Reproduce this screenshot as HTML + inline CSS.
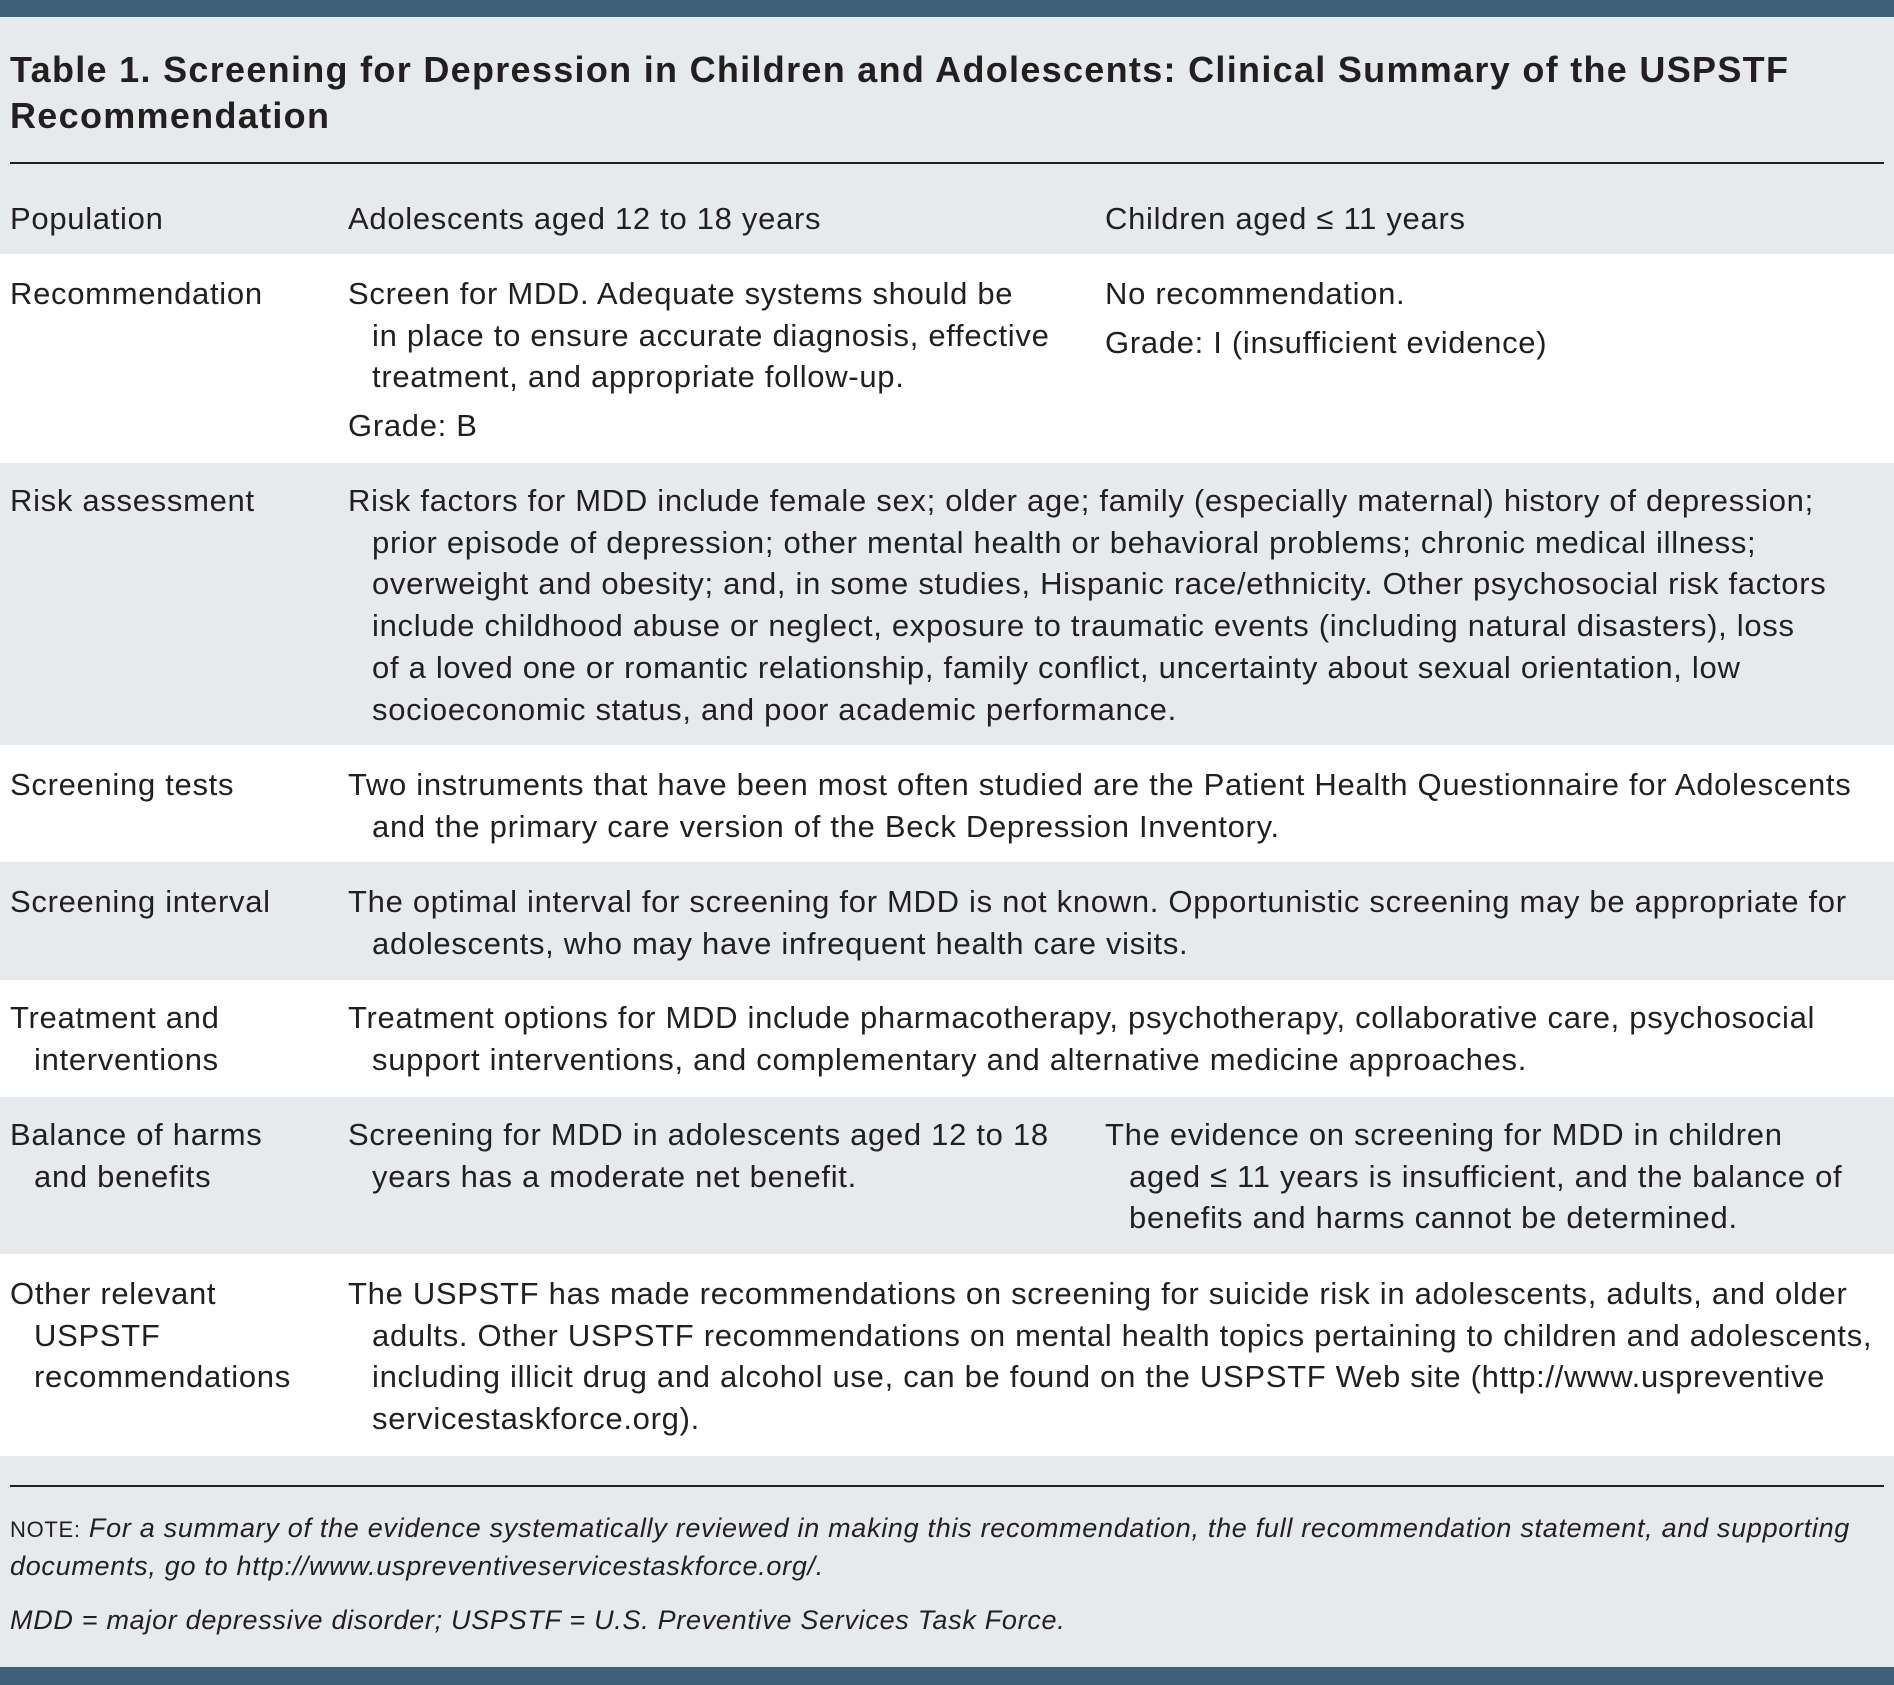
<!DOCTYPE html>
<html><head><meta charset="utf-8"><style>
*{margin:0;padding:0;box-sizing:border-box}
body{width:1894px;height:1685px;position:relative;background:#e6eaed;font-family:"Liberation Sans",sans-serif;color:#231f20;overflow:hidden}
.bar{position:absolute;left:0;width:1894px;background:#3e6079}
.row{position:absolute;left:0;width:1894px}
.w{background:#fff}.g{background:#e6eaed}
.t{position:absolute;font-size:31px;line-height:41.7px;white-space:nowrap;letter-spacing:0.7px}
.h{padding-left:24px;text-indent:-24px}
.hr{position:absolute;left:10px;width:1874px;height:2px;background:#231f20}
</style></head><body>
<div class="bar" style="top:0;height:17px"></div>
<div class="t" style="left:10px;top:47px;font-size:36px;line-height:46px;font-weight:bold;letter-spacing:1.3px">Table 1. Screening for Depression in Children and Adolescents: Clinical Summary of the USPSTF<br>Recommendation</div>
<div class="hr" style="top:162px"></div>

<div class="row g" style="top:164px;height:90px"></div>
<div class="t" style="left:10px;top:198px">Population</div>
<div class="t" style="left:348px;top:198px">Adolescents aged 12 to 18 years</div>
<div class="t" style="left:1105px;top:198px">Children aged ≤ 11 years</div>

<div class="row w" style="top:254px;height:209px"></div>
<div class="t" style="left:10px;top:273px">Recommendation</div>
<div class="t h" style="left:348px;top:273px">Screen for MDD. Adequate systems should be<br>in place to ensure accurate diagnosis, effective<br>treatment, and appropriate follow-up.<div style="margin-top:7px">Grade: B</div></div>
<div class="t" style="left:1105px;top:273px">No recommendation.<div style="margin-top:7px">Grade: I (insufficient evidence)</div></div>

<div class="row g" style="top:463px;height:282px"></div>
<div class="t" style="left:10px;top:480px">Risk assessment</div>
<div class="t h" style="left:348px;top:480px">Risk factors for MDD include female sex; older age; family (especially maternal) history of depression;<br>prior episode of depression; other mental health or behavioral problems; chronic medical illness;<br>overweight and obesity; and, in some studies, Hispanic race/ethnicity. Other psychosocial risk factors<br>include childhood abuse or neglect, exposure to traumatic events (including natural disasters), loss<br>of a loved one or romantic relationship, family conflict, uncertainty about sexual orientation, low<br>socioeconomic status, and poor academic performance.</div>

<div class="row w" style="top:745px;height:117px"></div>
<div class="t" style="left:10px;top:764px">Screening tests</div>
<div class="t h" style="left:348px;top:764px">Two instruments that have been most often studied are the Patient Health Questionnaire for Adolescents<br>and the primary care version of the Beck Depression Inventory.</div>

<div class="row g" style="top:862px;height:118px"></div>
<div class="t" style="left:10px;top:881px">Screening interval</div>
<div class="t h" style="left:348px;top:881px">The optimal interval for screening for MDD is not known. Opportunistic screening may be appropriate for<br>adolescents, who may have infrequent health care visits.</div>

<div class="row w" style="top:980px;height:117px"></div>
<div class="t h" style="left:10px;top:997px">Treatment and<br>interventions</div>
<div class="t h" style="left:348px;top:997px">Treatment options for MDD include pharmacotherapy, psychotherapy, collaborative care, psychosocial<br>support interventions, and complementary and alternative medicine approaches.</div>

<div class="row g" style="top:1097px;height:157px"></div>
<div class="t h" style="left:10px;top:1114px">Balance of harms<br>and benefits</div>
<div class="t h" style="left:348px;top:1114px">Screening for MDD in adolescents aged 12 to 18<br>years has a moderate net benefit.</div>
<div class="t h" style="left:1105px;top:1114px">The evidence on screening for MDD in children<br>aged ≤ 11 years is insufficient, and the balance of<br>benefits and harms cannot be determined.</div>

<div class="row w" style="top:1254px;height:202px"></div>
<div class="t h" style="left:10px;top:1273px">Other relevant<br>USPSTF<br>recommendations</div>
<div class="t h" style="left:348px;top:1273px">The USPSTF has made recommendations on screening for suicide risk in adolescents, adults, and older<br>adults. Other USPSTF recommendations on mental health topics pertaining to children and adolescents,<br>including illicit drug and alcohol use, can be found on the USPSTF Web site (http://www.uspreventive<br>servicestaskforce.org).</div>

<div class="hr" style="top:1485px"></div>
<div class="t" style="left:10px;top:1510px;font-size:27px;line-height:37px;font-style:italic;letter-spacing:0.7px"><span style="font-style:normal;font-size:22px">NOTE:</span> For a summary of the evidence systematically reviewed in making this recommendation, the full recommendation statement, and supporting<br>documents, go to http://www.uspreventiveservicestaskforce.org/.</div>
<div class="t" style="left:10px;top:1602px;font-size:27px;line-height:37px;font-style:italic;letter-spacing:0.7px">MDD = major depressive disorder; USPSTF = U.S. Preventive Services Task Force.</div>
<div class="bar" style="top:1667px;height:18px"></div>
</body></html>
